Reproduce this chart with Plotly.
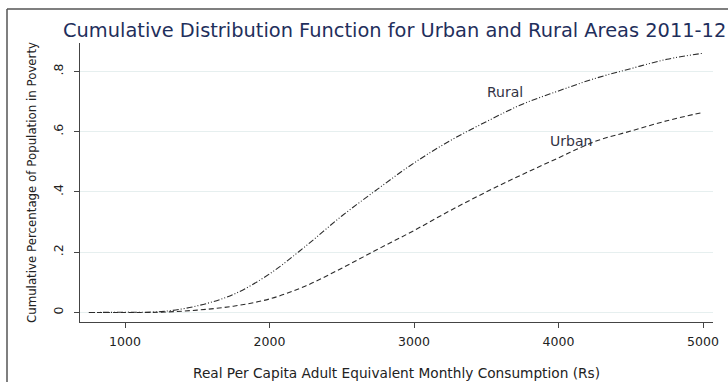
import plotly.graph_objects as go

consumption = [750, 1000, 1250, 1500, 1750, 2000, 2250, 2500, 2750, 3000,
               3250, 3500, 3750, 4000, 4250, 4500, 4750, 5000]
rural_cdf = [0.0, 0.001, 0.003, 0.022, 0.060, 0.128, 0.220, 0.320, 0.410, 0.496,
             0.570, 0.633, 0.691, 0.735, 0.776, 0.809, 0.840, 0.860]
urban_cdf = [0.0, 0.0, 0.001, 0.008, 0.021, 0.045, 0.088, 0.147, 0.210, 0.272,
             0.338, 0.400, 0.458, 0.513, 0.567, 0.602, 0.636, 0.664]
y_tickvals = [0, 0.2, 0.4, 0.6, 0.8]
y_ticktext = ["0", ".2", ".4", ".6", ".8"]
x_tickvals = [1000, 2000, 3000, 4000, 5000]

FONT = "DejaVu Sans, Verdana, sans-serif"
LINE = "#2b2b2b"

fig = go.Figure()
fig.add_trace(go.Scatter(x=consumption, y=rural_cdf, mode="lines", name="Rural",
                         line=dict(color=LINE, width=1.1, dash="6px,2px,1px,2px,1px,2px"),
                         line_shape="spline"))
fig.add_trace(go.Scatter(x=consumption, y=urban_cdf, mode="lines", name="Urban",
                         line=dict(color=LINE, width=1.1, dash="5px,3px"),
                         line_shape="spline"))

fig.update_layout(
    width=728, height=382,
    margin=dict(l=80, r=15, t=43, b=60, autoexpand=False),
    paper_bgcolor="white", plot_bgcolor="white",
    showlegend=False,
    font=dict(family=FONT, size=12, color="#222222"),
    title=dict(text="Cumulative Distribution Function for Urban and Rural Areas 2011-12",
               x=63/728, xanchor="left", xref="container",
               y=1-30/382, yanchor="middle", yref="container",
               font=dict(family=FONT, size=19.4, color="#1f2f5c")),
    xaxis=dict(range=[688.6, 5069], tickvals=x_tickvals, automargin=False,
               showgrid=False, zeroline=False,
               showline=True, linecolor="#444444", linewidth=1,
               ticks="outside", ticklen=5, tickcolor="#444444",
               ticklabelstandoff=3,
               tickfont=dict(size=12.5, color="#222222"),
               title=dict(text="Real Per Capita Adult Equivalent Monthly Consumption (Rs)",
                          font=dict(size=13.7, color="#222222"), standoff=20)),
    yaxis=dict(range=[-0.0315, 0.894], tickvals=y_tickvals, ticktext=y_ticktext,
               tickangle=-90, automargin=False,
               showgrid=True, gridcolor="#e6efef", gridwidth=1, zeroline=False,
               showline=True, linecolor="#444444", linewidth=1,
               ticks="outside", ticklen=5, tickcolor="#444444",
               ticklabelstandoff=6,
               tickfont=dict(size=12.5, color="#222222"),
               title=dict(text="Cumulative Percentage of Population in Poverty",
                          font=dict(size=11.8, color="#222222"), standoff=11)),
)

fig.add_annotation(x=3630, y=0.732, text="Rural", showarrow=False,
                   font=dict(size=14, color="#333344"))
fig.add_annotation(x=4083, y=0.569, text="Urban", showarrow=False,
                   font=dict(size=14, color="#333344"))

# outer frame lines (top and left)
px_l, px_r = 80, 713
py_t, py_b = 43, 322
def xp(px):
    return (px - px_l) / (px_r - px_l)
def yp(py):
    return (py_b - py) / (py_b - py_t)
fig.add_shape(type="line", xref="paper", yref="paper",
              x0=xp(7), x1=xp(728), y0=yp(9), y1=yp(9),
              line=dict(color="#555555", width=1.5))
fig.add_shape(type="line", xref="paper", yref="paper",
              x0=xp(7), x1=xp(7), y0=yp(9), y1=yp(382),
              line=dict(color="#555555", width=1.5))

fig.write_html("out.html")
